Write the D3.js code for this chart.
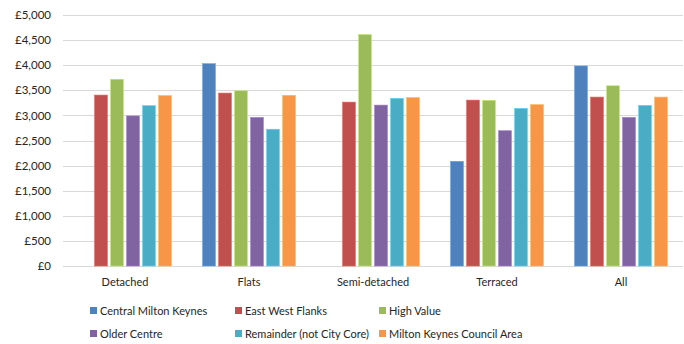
<!DOCTYPE html>
<html>
<head>
<meta charset="utf-8">
<script src="https://cdn.jsdelivr.net/npm/d3@7"></script>
<style>
  html, body { margin: 0; padding: 0; background: #fff; }
  svg { display: block; }
  text { font-family: Lato, "Open Sans", sans-serif; fill: #262626; }
</style>
</head>
<body>
<svg id="chart" width="684" height="344"></svg>
<script>
// Property types along the x axis
const categories = ["Detached", "Flats", "Semi-detached", "Terraced", "All"];

// Sub-market areas (one bar each per property type)
const seriesNames = [
  "Central Milton Keynes",
  "East West Flanks",
  "High Value",
  "Older Centre",
  "Remainder (not City Core)",
  "Milton Keynes Council Area"
];

// Values per area, in category order (null = no data)
const centralMK   = [null, 4030, null, 2085, 3985];
const eastWest    = [3405, 3445, 3265, 3305, 3365];
const highValue   = [3720, 3490, 4610, 3300, 3590];
const olderCentre = [2990, 2960, 3205, 2695, 2960];
const remainder   = [3195, 2725, 3340, 3140, 3200];
const mkCouncil   = [3395, 3400, 3355, 3215, 3365];

const seriesValues = [centralMK, eastWest, highValue, olderCentre, remainder, mkCouncil];
const colors = ["#4F81BD", "#C0504D", "#9BBB59", "#8064A2", "#4BACC6", "#F79646"];

const yTicks = [0, 500, 1000, 1500, 2000, 2500, 3000, 3500, 4000, 4500, 5000];

const svg = d3.select("#chart");
const margin = { top: 15, right: 1, bottom: 78, left: 63 };
const W = 684, H = 344;
const plotW = W - margin.left - margin.right;
const plotH = H - margin.top - margin.bottom;

const g = svg.append("g").attr("transform", `translate(${margin.left},${margin.top})`);

const y = d3.scaleLinear().domain([0, 5000]).range([plotH, 0]);
const x0 = d3.scaleBand().domain(categories).range([0, plotW]).paddingInner(0.2).paddingOuter(0.1);
const x1 = d3.scaleBand().domain(d3.range(seriesNames.length)).range([0, x0.bandwidth()]).padding(0.2);

// Horizontal gridlines
g.append("g")
  .selectAll("line")
  .data(yTicks)
  .join("line")
  .attr("x1", 0).attr("x2", plotW)
  .attr("y1", d => Math.round(y(d)) + 0.5)
  .attr("y2", d => Math.round(y(d)) + 0.5)
  .attr("stroke", "#D9D9D9")
  .attr("stroke-width", 1);

// Y axis labels
const fmt = d => "£" + d3.format(",")(d);
const yAxis = g.append("g")
  .call(d3.axisLeft(y).tickValues(yTicks).tickFormat(fmt).tickSize(0).tickPadding(12));
yAxis.select(".domain").remove();
yAxis.selectAll("text")
  .style("font-family", "Lato, 'Open Sans', sans-serif")
  .style("font-size", "11.5px")
  .attr("fill", "#262626");

// Bars
const rows = categories.map((c, i) => ({
  cat: c,
  vals: seriesValues.map((s, k) => ({ k, v: s[i] }))
}));

g.append("g")
  .selectAll("g")
  .data(rows)
  .join("g")
  .attr("transform", d => `translate(${x0(d.cat)},0)`)
  .selectAll("rect")
  .data(d => d.vals.filter(e => e.v != null))
  .join("rect")
  .attr("x", d => x1(d.k))
  .attr("width", x1.bandwidth())
  .attr("y", d => y(d.v))
  .attr("height", d => y(0) - y(d.v))
  .attr("fill", d => colors[d.k])
  .attr("stroke", d => d3.color(colors[d.k]).brighter(0.6))
  .attr("stroke-width", 0.6);

// X axis labels
const xAxis = g.append("g")
  .attr("transform", `translate(0,${plotH})`)
  .call(d3.axisBottom(x0).tickSize(0).tickPadding(12));
xAxis.select(".domain").remove();
xAxis.selectAll("text")
  .style("font-family", "Lato, 'Open Sans', sans-serif")
  .style("font-size", "11px")
  .attr("fill", "#262626");

// Legend (3 columns x 2 rows)
const legendX = [90, 235, 379];
const legendY = [311, 334];
const legend = svg.append("g")
  .selectAll("g")
  .data(seriesNames)
  .join("g")
  .attr("transform", (d, i) => `translate(${legendX[i % 3]},${legendY[Math.floor(i / 3)]})`);
legend.append("rect")
  .attr("x", 0).attr("y", -4)
  .attr("width", 7).attr("height", 7)
  .attr("fill", (d, i) => colors[i]);
legend.append("text")
  .attr("x", 10).attr("y", 0)
  .attr("dy", "0.35em")
  .style("font-size", "11px")
  .text(d => d);
</script>
</body>
</html>
